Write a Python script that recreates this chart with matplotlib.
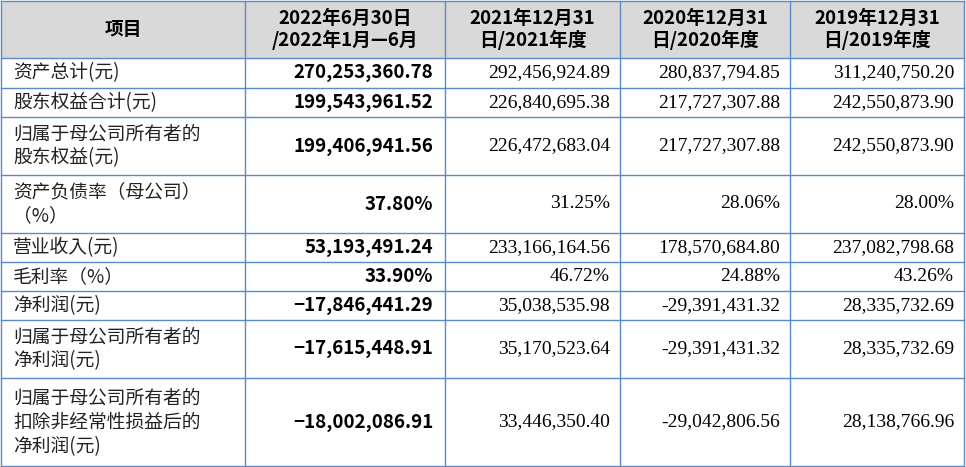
import matplotlib.pyplot as plt
from matplotlib.patches import Rectangle

headers = ["项目", "2022年6月30日\n/2022年1月—6月", "2021年12月31\n日/2021年度",
           "2020年12月31\n日/2020年度", "2019年12月31\n日/2019年度"]
items = ["资产总计(元)", "股东权益合计(元)", "归属于母公司所有者的\n股东权益(元)",
         "资产负债率（母公司）\n（%）", "营业收入(元)", "毛利率（%）", "净利润(元)",
         "归属于母公司所有者的\n净利润(元)", "归属于母公司所有者的\n扣除非经常性损益后的\n净利润(元)"]
col_2022 = ["270,253,360.78", "199,543,961.52", "199,406,941.56", "37.80%", "53,193,491.24",
            "33.90%", "-17,846,441.29", "-17,615,448.91", "-18,002,086.91"]
col_2021 = ["292,456,924.89", "226,840,695.38", "226,472,683.04", "31.25%", "233,166,164.56",
            "46.72%", "35,038,535.98", "35,170,523.64", "33,446,350.40"]
col_2020 = ["280,837,794.85", "217,727,307.88", "217,727,307.88", "28.06%", "178,570,684.80",
            "24.88%", "-29,391,431.32", "-29,391,431.32", "-29,042,806.56"]
col_2019 = ["311,240,750.20", "242,550,873.90", "242,550,873.90", "28.00%", "237,082,798.68",
            "43.26%", "28,335,732.69", "28,335,732.69", "28,138,766.96"]

col_x = [1, 245, 445, 620, 790, 964]
row_y = [1, 58, 88, 117, 175, 233, 262, 291, 320, 378, 466]
line_c = "#5b8ac6"

fig = plt.figure(figsize=(9.66, 4.67), dpi=100)
ax = fig.add_axes([0, 0, 1, 1])
ax.set_xlim(0, 966)
ax.set_ylim(467, 0)
ax.axis("off")

ax.add_patch(Rectangle((col_x[0], row_y[0]), col_x[-1] - col_x[0], row_y[1] - row_y[0],
                       facecolor="#d9d9d9", edgecolor="none"))
for x in col_x:
    ax.plot([x, x], [row_y[0], row_y[-1]], color=line_c, lw=1)
for y in row_y:
    ax.plot([col_x[0], col_x[-1]], [y, y], color=line_c, lw=1)

cjk = ["Noto Sans CJK SC", "Noto Sans CJK JP", "DejaVu Sans"]
for i, h in enumerate(headers):
    ax.text((col_x[i] + col_x[i + 1]) / 2, (row_y[0] + row_y[1]) / 2, h, ha="center", va="center",
            fontsize=13.5, fontweight="bold", family=cjk, linespacing=1.1)

for r, name in enumerate(items):
    yc = (row_y[r + 1] + row_y[r + 2]) / 2
    ax.text(col_x[0] + 12, yc, name, ha="left", va="center", fontsize=13.5, family=cjk,
            linespacing=1.2, color="#222222")
    ax.text(col_x[2] - 12, yc, col_2022[r].replace("-", "−"), ha="right", va="center", fontsize=13.5,
            fontweight="bold", family=cjk)
    for c, col in enumerate([col_2021, col_2020, col_2019]):
        ax.text(col_x[c + 3] - 10, yc, col[r], ha="right", va="center", fontsize=14,
                family="Liberation Serif")

fig.savefig("out.png", dpi=100)
